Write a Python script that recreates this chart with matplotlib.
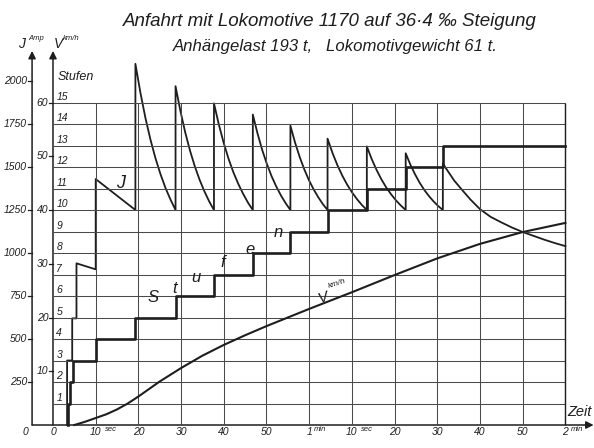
import matplotlib
matplotlib.use('Agg')
import matplotlib.pyplot as plt

# ---------------- data ----------------
# Current J (Amp) over time (sec)
j_time = [3.3, 3.3, 4.5, 4.5, 5.5, 5.5, 10.0, 10.0, 19.3,
          19.3, 20.48, 21.65, 22.83, 24.0, 25.18, 26.35, 27.53, 28.7,
          28.7, 29.83, 30.95, 32.08, 33.2, 34.33, 35.45, 36.58, 37.7,
          37.7, 38.84, 39.98, 41.11, 42.25, 43.39, 44.53, 45.66, 46.8,
          46.8, 47.9, 49.0, 50.1, 51.2, 52.3, 53.4, 54.5, 55.6,
          55.6, 56.69, 57.78, 58.86, 59.95, 61.04, 62.13, 63.21, 64.3,
          64.3, 65.45, 66.6, 67.75, 68.9, 70.05, 71.2, 72.35, 73.5,
          73.5, 74.64, 75.78, 76.91, 78.05, 79.19, 80.33, 81.46, 82.6,
          82.6, 83.69, 84.78, 85.86, 86.95, 88.04, 89.13, 90.21, 91.3,
          91.3, 92.5, 94.0, 95.7, 97.8, 100.0, 102.5, 105.0, 107.5, 110.0,
          112.5, 115.0, 117.5, 120.0]
j_amp = [0, 375, 375, 620, 620, 940, 905, 1430, 1250,
         2100, 1931, 1785, 1659, 1551, 1458, 1378, 1310, 1250,
         1970, 1827, 1703, 1596, 1505, 1426, 1359, 1300, 1250,
         1870, 1747, 1640, 1548, 1469, 1402, 1344, 1293, 1250,
         1805, 1695, 1599, 1517, 1446, 1386, 1334, 1289, 1250,
         1740, 1642, 1558, 1486, 1423, 1370, 1324, 1284, 1250,
         1665, 1582, 1511, 1450, 1397, 1352, 1313, 1279, 1250,
         1620, 1546, 1483, 1428, 1381, 1341, 1306, 1276, 1250,
         1580, 1514, 1458, 1409, 1367, 1331, 1300, 1273, 1250,
         1520, 1475, 1420, 1370, 1310, 1255, 1210, 1178, 1148, 1122,
         1100, 1078, 1058, 1040]

# Controller notches (Stufen) over time (sec), step-post
stufen_time = [3.5, 3.5, 3.9, 4.8, 10.0, 19.3, 28.7, 37.7, 46.8, 55.6,
               64.3, 73.5, 82.6, 91.3, 120.0]
stufen_no = [0, 1, 2, 3, 4, 5, 6, 7, 8, 9, 10, 11, 12, 13, 13]

# Speed v (km/h) over time (sec)
v_time = [5, 7.5, 10, 12.5, 15, 17.5, 20, 25, 30, 35, 40, 45, 50, 55, 60,
          70, 80, 90, 100, 110, 120]
v_kmh = [0, 0.6, 1.3, 2.0, 2.9, 4.0, 5.3, 8.1, 10.6, 12.9, 14.9, 16.7, 18.4,
         20.0, 21.6, 24.7, 27.9, 31.0, 33.7, 35.9, 37.6]

amp_ticks = [250, 500, 750, 1000, 1250, 1500, 1750, 2000]
v_ticks = [10, 20, 30, 40, 50, 60]
stufen_ticks = list(range(1, 16))
time_ticks = [0, 10, 20, 30, 40, 50, 60, 70, 80, 90, 100, 110, 120]
time_labels = ['0', '10', '20', '30', '40', '50', '1', '10', '20', '30',
               '40', '50', '2']
time_units = {10: 'sec', 60: 'min', 70: 'sec', 120: 'min'}

title = 'Anfahrt mit Lokomotive 1170 auf 36·4 ‰ Steigung'
subtitle = 'Anhängelast 193 t,   Lokomotivgewicht 61 t.'

# ---------------- layout ----------------
W, H = 594, 448
INK = '#1e1e1e'
GRID = '#4a4a4a'
FONT = 'Liberation Sans'
AMP_PER_STUFE = 125.0
AMP_PER_KMH = 31.25

fig = plt.figure(figsize=(W / 100, H / 100), dpi=100)
fig.patch.set_facecolor('white')
ax = fig.add_axes([0, 0, 1, 1])
T0, T1 = -12.41, 126.7
A0, A1 = -133.7, 2471
ax.set_xlim(T0, T1)
ax.set_ylim(A0, A1)
ax.axis('off')

axs = ax.twinx()
axs.set_ylim(A0 / AMP_PER_STUFE, A1 / AMP_PER_STUFE)
axs.axis('off')
axv = ax.twinx()
axv.set_ylim(A0 / AMP_PER_KMH, A1 / AMP_PER_KMH)
axv.axis('off')

T_END = time_ticks[-1]
N_TOP = stufen_ticks[-1]

# grid
axs.hlines(stufen_ticks, 0, T_END, color=GRID, lw=0.75, zorder=1)
axs.vlines(time_ticks[1:], 0, N_TOP, color=GRID, lw=0.75, zorder=1)
axs.vlines([T_END], 0, N_TOP, color=INK, lw=1.0, zorder=1)

# axes with arrows
J_AXIS_T = -4.9
ARROW_TOP = 2175
arrow = dict(arrowstyle='-|>', lw=1.1, color=INK, mutation_scale=11,
             shrinkA=0, shrinkB=0)
ax.annotate('', xy=(J_AXIS_T, ARROW_TOP), xytext=(J_AXIS_T, 0), arrowprops=arrow)
ax.annotate('', xy=(0, ARROW_TOP), xytext=(0, 0), arrowprops=arrow)
ax.annotate('', xy=(126.6, 0), xytext=(J_AXIS_T, 0), arrowprops=arrow)

# tick marks + labels
tfont = dict(family=FONT, style='italic', fontsize=7.5, color=INK)
for a in amp_ticks:
    ax.plot([J_AXIS_T - 1.0, J_AXIS_T], [a, a], color=INK, lw=0.9)
    ax.text(J_AXIS_T - 1.2, a, str(a), ha='right', va='center', **tfont)
for v in v_ticks:
    axv.plot([-0.9, 0], [v, v], color=INK, lw=0.9)
    axv.text(-1.1, v, str(v), ha='right', va='center', **tfont)
for n in stufen_ticks:
    axs.text(0.8, n + 0.27, str(n), ha='left', va='center', **tfont)

# time labels
for t, lab in zip(time_ticks, time_labels):
    ax.text(t, -42, lab, ha='center', va='center', **tfont)
    if t in time_units:
        ax.text(t + 1.2 + 0.9 * (len(lab) - 1), -28, time_units[t], ha='left',
                va='center', family=FONT, style='italic', fontsize=5.5, color=INK)
ax.text(-6.56, -42, '0', ha='center', va='center', **tfont)

# curves
axs.step(stufen_time, stufen_no, where='post', color=INK, lw=1.9, zorder=4)
ax.plot(j_time, j_amp, color=INK, lw=1.3, zorder=5)
axv.plot(v_time, v_kmh, color=INK, lw=1.5, zorder=5)

# texts
def ptext(x, y, s, **kw):
    kw.setdefault('family', FONT)
    kw.setdefault('style', 'italic')
    kw.setdefault('color', INK)
    fig.text(x / W, 1 - y / H, s, **kw)

ptext(330, 22, title, ha='center', va='center', fontsize=13.5)
ptext(335, 46, subtitle, ha='center', va='center', fontsize=12.1)
ptext(22, 44, 'J', ha='center', va='center', fontsize=10)
ptext(28, 38, 'Amp', ha='left', va='center', fontsize=5.5)
ptext(58, 44, 'V', ha='center', va='center', fontsize=10)
ptext(63, 38, 'km/h', ha='left', va='center', fontsize=5.5)
ptext(76, 77, 'Stufen', ha='center', va='center', fontsize=9)
ptext(121, 184, 'J', ha='center', va='center', fontsize=13)
for ch, (x, y) in zip('Stufen', [(153, 297), (175, 288), (196, 277), (223, 262),
                                 (250, 249), (278, 232)]):
    ptext(x, y, ch, ha='center', va='center', fontsize=12)
ptext(323, 298, 'V', ha='center', va='center', fontsize=11, rotation=18)
ptext(337, 284, 'km/h', ha='center', va='center', fontsize=6, rotation=18)
ptext(579, 412, 'Zeit', ha='center', va='center', fontsize=10.5)

fig.savefig('out.png', dpi=100, facecolor='white')
